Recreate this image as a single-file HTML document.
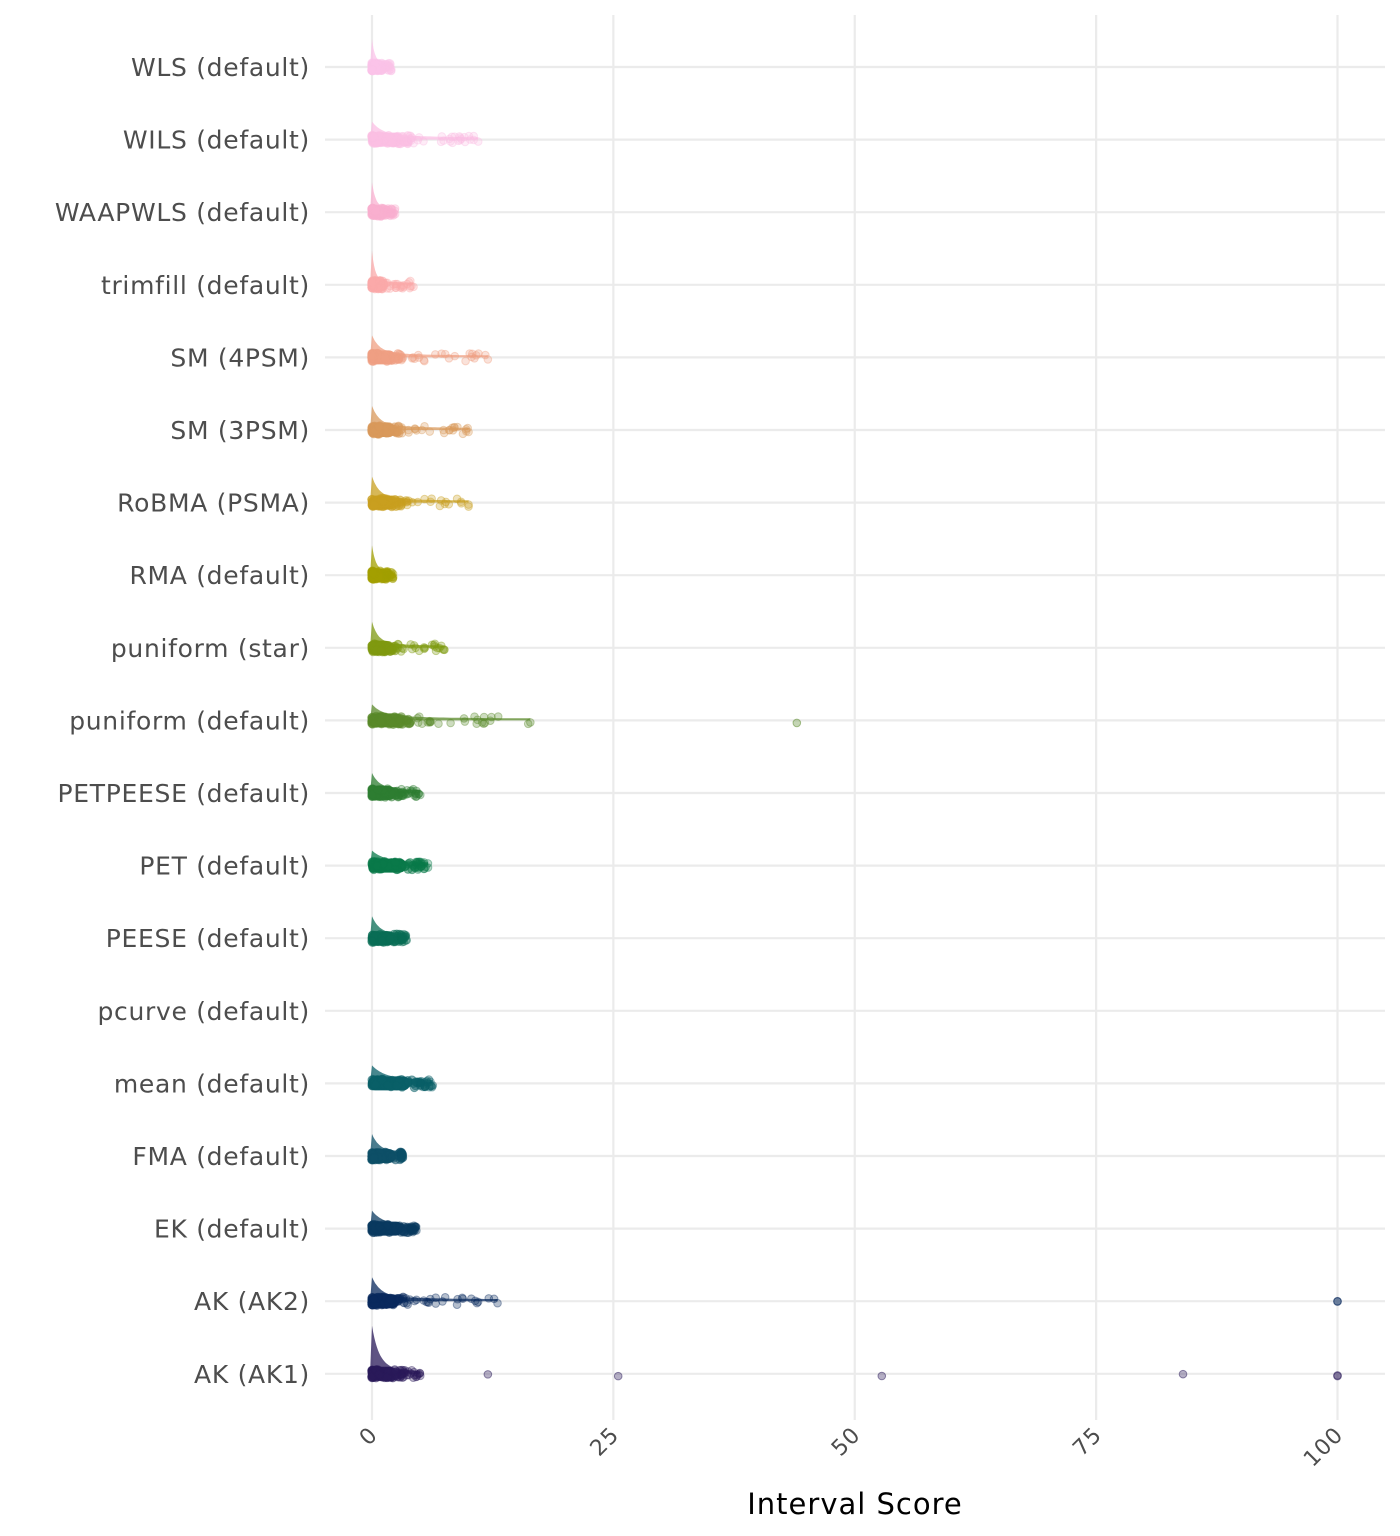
<!DOCTYPE html>
<html><head><meta charset="utf-8"><style>
html,body{margin:0;padding:0;background:#fff;}
svg{display:block;font-family:"DejaVu Sans","Liberation Sans",sans-serif;}
</style></head><body>
<svg id="s" width="1400" height="1536" viewBox="0 0 1400 1536" xmlns="http://www.w3.org/2000/svg">
<g id="grid" stroke="#ebebeb" stroke-width="2.2" fill="none"></g>
<g id="data"></g>
<g id="labels" fill="#4d4d4d" font-size="25" letter-spacing="0.7" text-anchor="end"></g>
<g id="ticks" fill="#4d4d4d" font-size="22" letter-spacing="1" text-anchor="end"></g>
<text x="855" y="1514" font-size="29" letter-spacing="1" text-anchor="middle" fill="#000">Interval Score</text>
</svg>
<script>
var X0=372, S=9.655;
function px(v){return X0+v*S;}
var rows=[
["WLS (default)","#fbc3e9",1.2,2,[] ,22],
["WILS (default)","#fbbfe4",4,11,[],12],
["WAAPWLS (default)","#f9b0d0",1.5,2.4,[],24],
["trimfill (default)","#fba9aa",1.2,4.3,[],28],
["SM (4PSM)","#f0a083",3,12,[],16],
["SM (3PSM)","#d99a5c",3,10,[],18],
["RoBMA (PSMA)","#c9a020",3,10,[],20],
["RMA (default)","#a3a000",1.5,2.2,[],24],
["puniform (star)","#7f9a10",2.5,7.5,[],20],
["puniform (default)","#5a8a2a",4,16.4,[44],10],
["PETPEESE (default)","#2e7d32",3,5,[],14],
["PET (default)","#0a7a4a",4.5,5.8,[],9],
["PEESE (default)","#0a6e55",3,3.6,[],16],
["pcurve (default)",null,0,0,[],0],
["mean (default)","#0a5f68",5,6.3,[],12],
["FMA (default)","#0d5068",3,3.2,[],16],
["EK (default)","#0a3a60",4,4.6,[],12],
["AK (AK2)","#0a2a5e",3.5,13,[100,100],18],
["AK (AK1)","#2a1a5a",3,5,[12,25.5,52.8,84,100,100],42]
];
var seed=7;function rnd(){seed=(seed*16807)%2147483647;return seed/2147483647;}
var ns="http://www.w3.org/2000/svg";
function el(t,a,p){var e=document.createElementNS(ns,t);for(var k in a)e.setAttribute(k,a[k]);document.getElementById(p).appendChild(e);return e;}
var g="grid";
[0,25,50,75,100].forEach(function(v){el("line",{x1:px(v),x2:px(v),y1:15,y2:1420},g);});
rows.forEach(function(r,i){
 var y=67+i*72.6;
 el("line",{x1:325,x2:1385,y1:y,y2:y},g);
 var t=el("text",{x:310,y:y+9},"labels");t.textContent=r[0];
 if(!r[1])return;
 var c=r[1],core=r[2],mx=r[3],h=r[5];
 var d="M"+(X0-2)+" "+y;
 for(var k=0;k<=40;k++){var v=k/40*mx;var hh=h*Math.exp(-v/(core*0.25))+4*Math.exp(-v/(core*1.2));d+=" L"+px(v).toFixed(1)+" "+(y-2-hh).toFixed(1);}
 d+=" L"+px(mx)+" "+y+" Z";
 el("path",{d:d,fill:c,opacity:0.75},"data");
 el("rect",{x:X0-4,y:y-7,width:core*S*0.75+6,height:14,rx:7,fill:c},"data");
 for(var k=0;k<70;k++){var v=Math.pow(rnd(),1.8)*core;el("circle",{cx:px(v),cy:y+(rnd()-0.5)*8,r:4.2,fill:c,"fill-opacity":0.5,stroke:c,"stroke-opacity":0.5},"data");}
 for(var k=0;k<25;k++){var v=core+Math.pow(rnd(),1.5)*(mx-core);el("circle",{cx:px(v),cy:y+(rnd()-0.5)*8,r:3.8,fill:c,"fill-opacity":0.3,stroke:c,"stroke-opacity":0.4},"data");}
 el("circle",{cx:px(mx),cy:y+2,r:3.8,fill:c,"fill-opacity":0.3,stroke:c,"stroke-opacity":0.4},"data");
 r[4].forEach(function(v){el("circle",{cx:px(v),cy:y+(rnd()-0.3)*4,r:3.8,fill:c,"fill-opacity":0.35,stroke:c,"stroke-opacity":0.5},"data");});
});
[0,25,50,75,100].forEach(function(v){var x=px(v)+7,y=1436;var t=el("text",{x:x,y:y,transform:"rotate(-45 "+x+" "+y+")"},"ticks");t.textContent=v;});
</script>
</body></html>
